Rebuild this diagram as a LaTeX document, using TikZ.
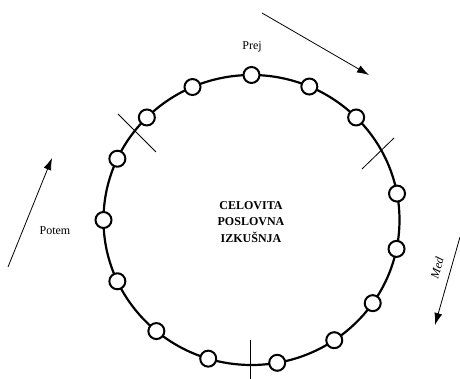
\documentclass[tikz,border=0pt]{standalone}
\usepackage{fontspec}
\setmainfont{Liberation Serif}
\usetikzlibrary{arrows.meta}
\begin{document}
\begin{tikzpicture}[x=1pt,y=1pt]
    \tikzstyle{stage}=[draw,shape=circle,fill=white,line width=2pt,minimum size=16pt,inner sep=0pt];
    \tikzstyle{ring}=[line width=2.2pt];
    \tikzstyle{cut}=[line width=0.8pt];
    \tikzstyle{flow}=[line width=0.8pt,-{Latex[length=12pt,width=8pt]}];
    \tikzstyle{phase}=[font=\fontsize{12}{14}\selectfont];
    \useasboundingbox (-251.5,-159) rectangle (208.5,220);
    \draw[ring] (0,0) ellipse [x radius=148, y radius=145];
    % stations round the ring
    \node[stage] at (90:148 and 145) (s1) {};
    \node[stage] at (67:148 and 145) (s2) {};
    \node[stage] at (45:148 and 145) (s3) {};
    \node[stage] at (10.5:148 and 145) (s4) {};
    \node[stage] at (-11.5:148 and 145) (s5) {};
    \node[stage] at (-35:148 and 145) (s6) {};
    \node[stage] at (-56:148 and 145) (s7) {};
    \node[stage] at (-80:148 and 145) (s8) {};
    \node[stage] at (-107:148 and 145) (s9) {};
    \node[stage] at (-130:148 and 145) (s10) {};
    \node[stage] at (-155:148 and 145) (s11) {};
    \node[stage] at (180:148 and 145) (s12) {};
    \node[stage] at (155:148 and 145) (s13) {};
    \node[stage] at (135:148 and 145) (s14) {};
    \node[stage] at (113.5:148 and 145) (s15) {};
    % section marks
    \coordinate (cutAa) at (-133.5,106);
    \coordinate (cutAb) at (-95.5,68);
    \coordinate (cutBa) at (142.5,82);
    \coordinate (cutBb) at (110.5,51);
    \coordinate (cutCa) at (-1.5,-120);
    \coordinate (cutCb) at (-1.5,-159);
    \draw[cut] (cutAa) -- (cutAb);
    \draw[cut] (cutBa) -- (cutBb);
    \draw[cut] (cutCa) -- (cutCb);
    % direction arrows
    \coordinate (prejA) at (10.5,207);
    \coordinate (prejB) at (117.5,145);
    \coordinate (medA) at (208.5,-17);
    \coordinate (medB) at (183.5,-105);
    \coordinate (potemA) at (-243.5,-47);
    \coordinate (potemB) at (-199.5,62);
    \draw[flow] (prejA) -- (prejB);
    \draw[flow] (medA) -- (medB);
    \draw[flow] (potemA) -- (potemB);
    \node[phase] at (0.5,173) (prej) {Prej};
    \node[phase] at (-196.5,-11) (potem) {Potem};
    \node[phase,rotate=74,font=\fontsize{12}{14}\selectfont\itshape] at (185.5,-48) (med) {Med};
    \node[align=center,font=\fontsize{12}{16.5}\selectfont\bfseries] at (-0.5,-2) (title) {CELOVITA\\POSLOVNA\\IZKUŠNJA};
\end{tikzpicture}
\end{document}
